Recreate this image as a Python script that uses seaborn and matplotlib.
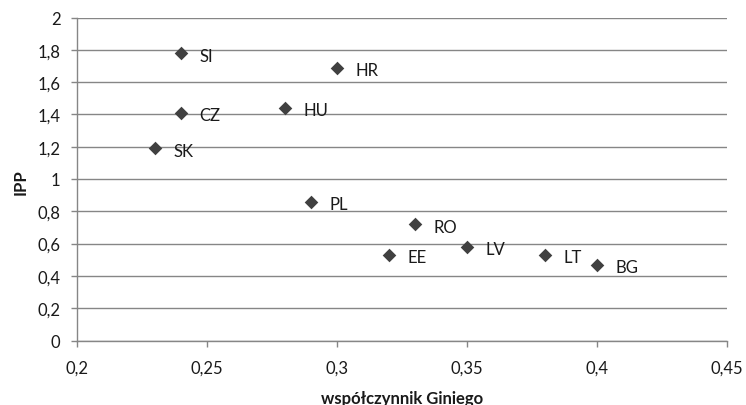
import matplotlib
matplotlib.use("Agg")
import matplotlib.pyplot as plt
import seaborn as sns
import pandas as pd
from matplotlib.ticker import FuncFormatter, MultipleLocator

countries = ["SI", "HR", "CZ", "HU", "SK", "PL", "RO", "LV", "EE", "LT", "BG"]
gini = [0.24, 0.30, 0.24, 0.28, 0.23, 0.29, 0.33, 0.35, 0.32, 0.38, 0.40]
ipp = [1.78, 1.69, 1.41, 1.44, 1.19, 0.86, 0.72, 0.58, 0.53, 0.53, 0.47]

df = pd.DataFrame({"gini": gini, "ipp": ipp, "country": countries})

sns.set_theme(style="white")
plt.rcParams["font.family"] = ["Lato", "DejaVu Sans"]

fig = plt.figure(figsize=(7.46, 4.06), dpi=100)
ax = fig.add_axes([77 / 746, 1 - 341.5 / 406, 650 / 746, 323 / 406])

grid_c = "#868686"
mark_c = "#404040"
text_c = "#1a1a1a"
fs = 12

ax.set_xlim(0.2, 0.45)
ax.set_ylim(0, 2)
ax.xaxis.set_major_locator(MultipleLocator(0.05))
ax.yaxis.set_major_locator(MultipleLocator(0.2))

def fmt(v, pos):
    s = ("%.2f" % v).rstrip("0").rstrip(".")
    return s.replace(".", ",")

ax.xaxis.set_major_formatter(FuncFormatter(fmt))
ax.yaxis.set_major_formatter(FuncFormatter(fmt))

ax.grid(axis="y", color=grid_c, linewidth=1.0)
ax.set_axisbelow(True)

sns.scatterplot(data=df, x="gini", y="ipp", marker="D", s=48, color=mark_c,
                linewidth=0, ax=ax, zorder=3)

for c, x, y in zip(countries, gini, ipp):
    ax.annotate(c, (x, y), xytext=(13.5, -1.8), textcoords="offset points",
                ha="left", va="center", fontsize=fs, color=text_c)

for side in ["top", "right"]:
    ax.spines[side].set_visible(False)
for side in ["left", "bottom"]:
    ax.spines[side].set_color(grid_c)
    ax.spines[side].set_linewidth(1.0)

ax.tick_params(axis="x", direction="out", length=4, width=1, color=grid_c,
               labelsize=fs, labelcolor=text_c, pad=10, bottom=True)
ax.tick_params(axis="y", direction="out", length=4, width=1, color=grid_c,
               labelsize=fs, labelcolor=text_c, pad=8, left=True)

ax.set_xlabel("współczynnik Giniego", fontsize=fs, fontweight="bold",
              color=text_c)
ax.set_ylabel("IPP", fontsize=fs, fontweight="bold", color=text_c)
ax.xaxis.set_label_coords(0.5, -49.5 / 323)
ax.yaxis.set_label_coords(-48.5 / 650, 0.494)

fig.savefig("out.png", dpi=100)
